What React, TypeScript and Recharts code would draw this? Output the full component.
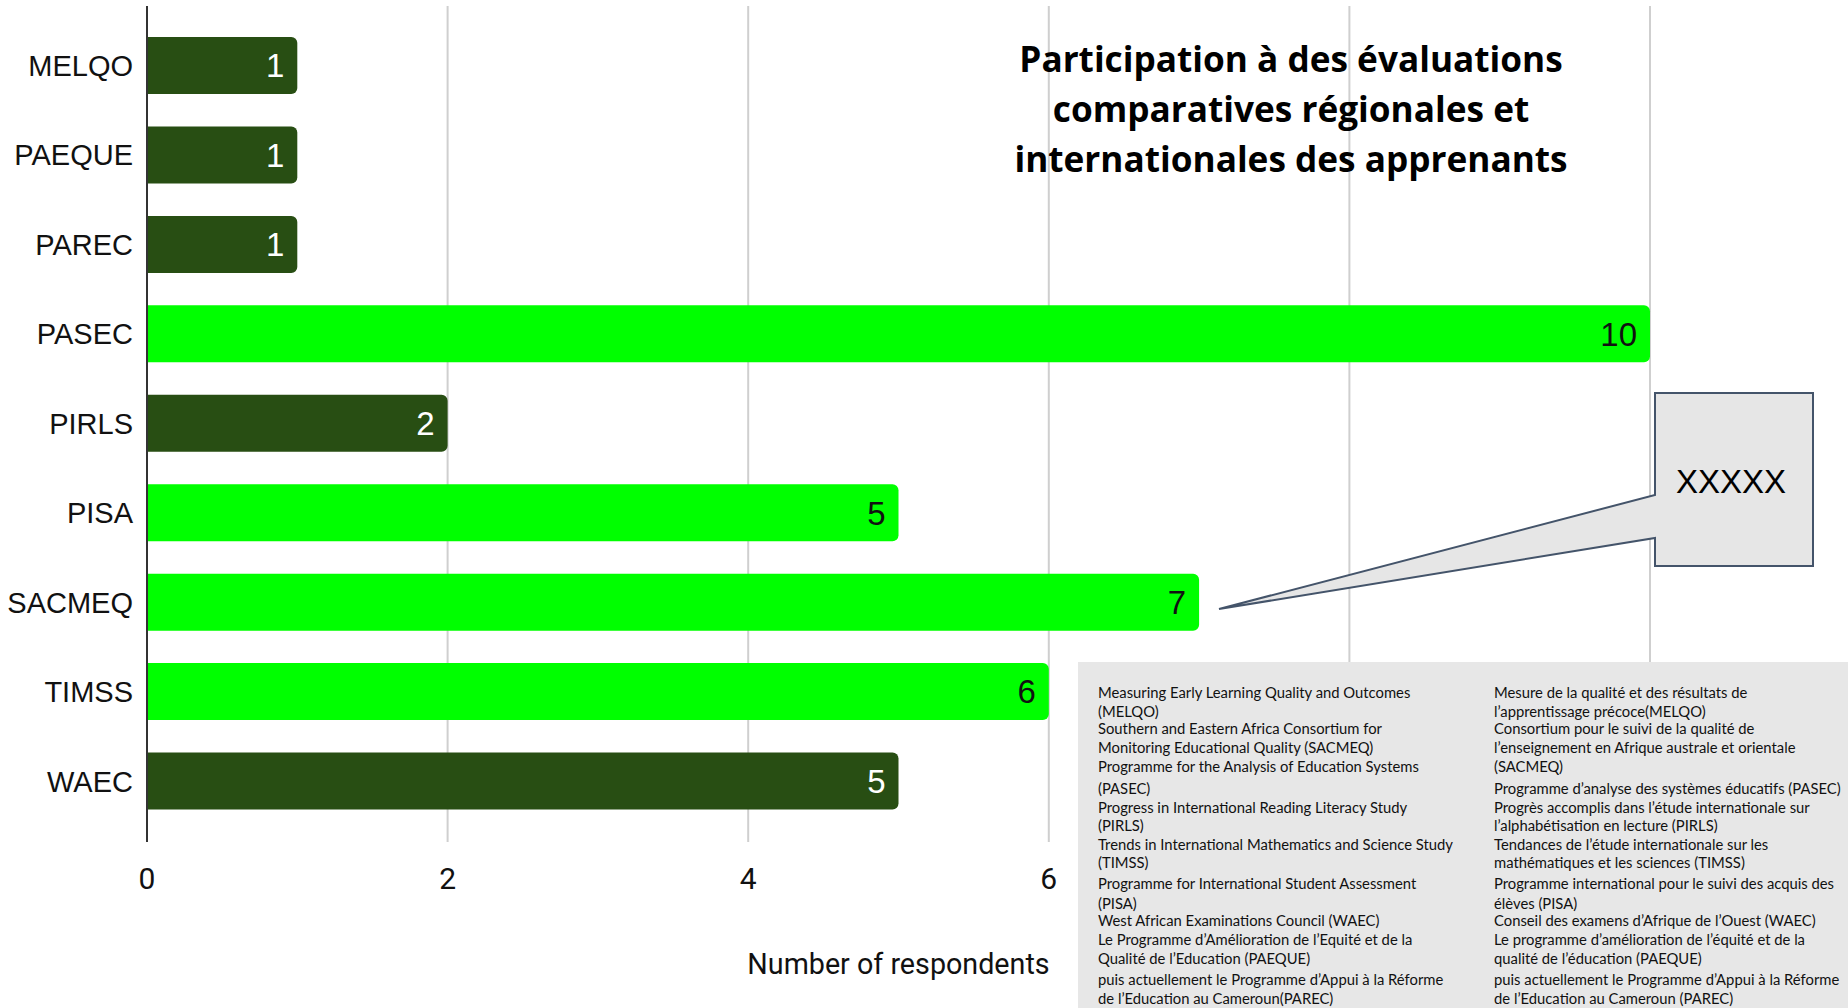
import { BarChart, Bar, XAxis, YAxis, CartesianGrid, Cell, LabelList } from "recharts";

const categories = ["MELQO", "PAEQUE", "PAREC", "PASEC", "PIRLS", "PISA", "SACMEQ", "TIMSS", "WAEC"];
const respondents = [1, 1, 1, 10, 2, 5, 7, 6, 5];
const highlighted = ["PASEC", "PISA", "SACMEQ", "TIMSS"];
const xTicks = [0, 2, 4, 6, 8, 10];

const titleLines = [
  "Participation à des évaluations",
  "comparatives régionales et",
  "internationales des apprenants",
];

const legendEnglish = [
  "Measuring Early Learning Quality and Outcomes",
  "(MELQO)",
  "Southern and Eastern Africa Consortium for",
  "Monitoring Educational Quality (SACMEQ)",
  "Programme for the Analysis of Education Systems",
  "(PASEC)",
  "Progress in International Reading Literacy Study",
  "(PIRLS)",
  "Trends in International Mathematics and Science Study",
  "(TIMSS)",
  "Programme for International Student Assessment",
  "(PISA)",
  "West African Examinations Council (WAEC)",
  "Le Programme d’Amélioration de l’Equité et de la",
  "Qualité de l’Education (PAEQUE)",
  "puis actuellement le Programme d’Appui à la Réforme",
  "de l’Education au Cameroun(PAREC)",
];

const legendFrench = [
  "Mesure de la qualité et des résultats de",
  "l’apprentissage précoce(MELQO)",
  "Consortium pour le suivi de la qualité de",
  "l’enseignement en Afrique australe et orientale",
  "(SACMEQ)",
  "Programme d’analyse des systèmes éducatifs (PASEC)",
  "Progrès accomplis dans l’étude internationale sur",
  "l’alphabétisation en lecture (PIRLS)",
  "Tendances de l’étude internationale sur les",
  "mathématiques et les sciences (TIMSS)",
  "Programme international pour le suivi des acquis des",
  "élèves (PISA)",
  "Conseil des examens d’Afrique de l’Ouest (WAEC)",
  "Le programme d’amélioration de l’équité et de la",
  "qualité de l’éducation (PAEQUE)",
  "puis actuellement le Programme d’Appui à la Réforme",
  "de l’Education au Cameroun (PAREC)",
];

const calloutText = "XXXXX";
const axisTitle = "Number of respondents";

// layout
const W = 1848;
const H = 1008;
const DARK = "#284e13";
const BRIGHT = "#00ff00";
const LEGEND_Y = [698, 717, 734, 753, 772, 794, 813, 831, 850, 868, 889, 909, 926, 945, 964, 985, 1004];

const data = categories.map((name, i) => ({ name, value: respondents[i] }));

const renderValue = (p: any) => {
  const { x, y, width, height, value, index } = p;
  const bright = highlighted.includes(categories[index]);
  return (
    <text
      x={x + width - 13}
      y={y + height / 2}
      dy="0.36em"
      textAnchor="end"
      fontSize={33}
      fontFamily="Liberation Sans, Arial, sans-serif"
      fill={bright ? "#111" : "#fff"}
    >
      {value}
    </text>
  );
};

function App() {
  return (
    <div style={{ position: "absolute", left: 0, top: 0, width: W, height: H, overflow: "hidden", background: "#fff" }}>
      <BarChart
        width={W}
        height={H}
        data={data}
        layout="vertical"
        margin={{ top: 6, right: 198, bottom: 26, left: 0 }}
      >
        <CartesianGrid horizontal={false} stroke="#cfcfcf" strokeWidth={2} />
        <XAxis
          type="number"
          domain={[0, 10]}
          ticks={xTicks}
          height={140}
          axisLine={false}
          tickLine={false}
          tickSize={0}
          tickMargin={26}
          // 8 and 10 sit under the notes box in the source
          tickFormatter={(v: number) => (v <= 6 ? String(v) : "")}
          tick={{ fontSize: 30, fill: "#111", fontFamily: "Roboto, Liberation Sans, sans-serif" }}
          label={{
            value: axisTitle,
            position: "insideBottom",
            offset: 8,
            fontSize: 28.7,
            fill: "#111",
            fontFamily: "Roboto, Liberation Sans, sans-serif",
          }}
        />
        <YAxis
          type="category"
          dataKey="name"
          width={147}
          padding={{ top: 15, bottom: 16 }}
          axisLine={{ stroke: "#333", strokeWidth: 2 }}
          tickLine={false}
          tickSize={0}
          tickMargin={14}
          interval={0}
          tick={{ fontSize: 29, fill: "#111", fontFamily: "Liberation Sans, Arial, sans-serif" }}
        />
        <Bar dataKey="value" barSize={57} radius={[0, 6, 6, 0]} isAnimationActive={false}>
          {data.map((d) => (
            <Cell key={d.name} fill={highlighted.includes(d.name) ? BRIGHT : DARK} />
          ))}
          <LabelList dataKey="value" content={renderValue} />
        </Bar>
      </BarChart>

      <svg
        width={W}
        height={H}
        style={{ position: "absolute", left: 0, top: 0, pointerEvents: "none" }}
      >
        {titleLines.map((t, i) => (
          <text
            key={t}
            x={1291}
            y={72 + i * 50}
            textAnchor="middle"
            fontSize={35.2}
            fontWeight="bold"
            fontFamily="'Open Sans', Lato, sans-serif"
            fill="#000"
          >
            {t}
          </text>
        ))}

        <path
          d="M1655,393 L1813,393 L1813,566 L1655,566 L1655,538 L1219,609 L1655,495 Z"
          fill="#e6e6e6"
          stroke="#44546a"
          strokeWidth={2}
        />
        <text
          x={1731}
          y={493}
          textAnchor="middle"
          fontSize={33}
          fontFamily="Liberation Sans, Arial, sans-serif"
          fill="#000"
        >
          {calloutText}
        </text>

        <rect x={1078} y={662} width={W - 1078} height={H - 662} fill="#e7e7e7" />
        {legendEnglish.map((t, i) => (
          <text key={"en" + i} x={1098} y={LEGEND_Y[i]} fontSize={14.8} fontFamily="Lato, sans-serif" fill="#111">
            {t}
          </text>
        ))}
        {legendFrench.map((t, i) => (
          <text key={"fr" + i} x={1494} y={LEGEND_Y[i]} fontSize={14.8} fontFamily="Lato, sans-serif" fill="#111">
            {t}
          </text>
        ))}
      </svg>
    </div>
  );
}

export default App;
